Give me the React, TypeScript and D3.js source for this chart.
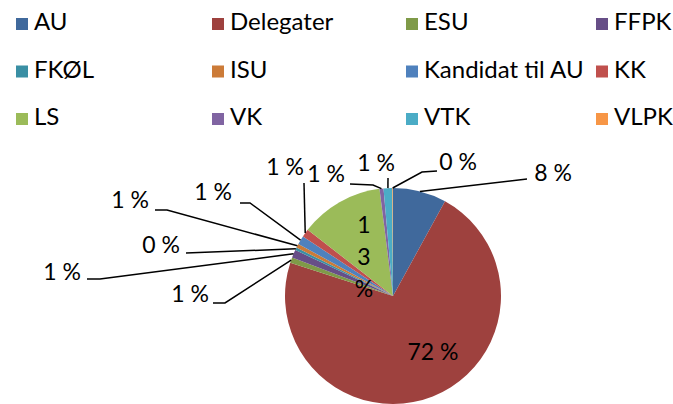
import * as d3 from 'd3';

const categories = ['AU', 'Delegater', 'ESU', 'FFPK', 'FKØL', 'ISU', 'Kandidat til AU', 'KK', 'LS', 'VK', 'VTK', 'VLPK'];
const shares = [8.0, 72.0, 0.8, 1.2, 0.4, 0.6, 1.3, 1.2, 12.5, 0.6, 1.3, 0.1];
const colors = ['#40699c', '#9e413e', '#7f9a48', '#674e87', '#3a8fa4', '#cc7b38', '#4f81bd', '#c0504d', '#9bbb59', '#8064a2', '#4bacc6', '#f79646'];

// where each value label sits (text centre, baseline) and the bend of its leader line
const labelLayout: { at: [number, number]; bend?: [number, number][]; stacked?: boolean }[] = [
  { at: [553, 181], bend: [[527, 179]] },
  { at: [433, 360] },
  { at: [190, 302], bend: [[225, 303], [213, 303]] },
  { at: [62, 280], bend: [[100, 279], [87, 279]] },
  { at: [161, 253], bend: [[186, 253]] },
  { at: [130, 208], bend: [[167, 210], [155, 210]] },
  { at: [213, 200], bend: [[250, 203], [240, 203]] },
  { at: [285, 175], bend: [[304, 183]] },
  { at: [364, 233], stacked: true },
  { at: [326, 182], bend: [[373, 185], [350, 184]] },
  { at: [376, 171], bend: [[388, 178]] },
  { at: [458, 170], bend: [[422, 172], [437, 171]] },
];

const width = 673;
const height = 404;
const cx = 393;
const cy = 296;
const radius = 108;
const font = 'Lato, "Open Sans", sans-serif';
const legendCols = [16, 212, 406, 596];

export default function App() {
  const pie = d3.pie<number>().sort(null).value((d) => d);
  const arcs = pie(shares);
  const arc = d3.arc<d3.PieArcDatum<number>>().innerRadius(0).outerRadius(radius);
  const edge = d3.arc<d3.PieArcDatum<number>>().innerRadius(radius).outerRadius(radius);
  const pct = (v: number) => `${Math.round(v)} %`;

  const colX = (i: number) => legendCols[i % 4];
  const rowY = (i: number) => 30 + Math.floor(i / 4) * 47.5;

  return (
    <svg width={width} height={height} style={{ position: 'absolute', left: 0, top: 0, background: '#fff' }}>
      <g className="legend" fontFamily={font} fontSize={24}>
        {categories.map((c, i) => (
          <g key={c}>
            <rect x={colX(i)} y={rowY(i) - 12} width={12} height={12} fill={colors[i]} />
            <text x={colX(i) + 18} y={rowY(i)} fill="#000">{c}</text>
          </g>
        ))}
      </g>
      <g transform={`translate(${cx},${cy})`}>
        {arcs.map((a, i) => (
          <path key={categories[i]} d={arc(a) ?? ''} fill={colors[i]} />
        ))}
      </g>
      <g className="leaders" fill="none" stroke="#000" strokeWidth={1.5}>
        {arcs.map((a, i) => {
          const lay = labelLayout[i];
          if (!lay.bend) return null;
          const [ex, ey] = edge.centroid(a);
          const pts: [number, number][] = [[cx + ex, cy + ey], ...lay.bend];
          return <path key={categories[i]} d={d3.line()(pts) ?? ''} />;
        })}
      </g>
      <g className="labels" fontFamily={font} fontSize={23} textAnchor="middle" fill="#000">
        {arcs.map((a, i) => {
          const lay = labelLayout[i];
          const txt = pct(a.data);
          if (lay.stacked) {
            const parts = [...txt.replace(' ', '')];
            return parts.map((p, k) => (
              <text key={categories[i] + k} x={lay.at[0]} y={lay.at[1] + k * 32}>{p}</text>
            ));
          }
          return <text key={categories[i]} x={lay.at[0]} y={lay.at[1]}>{txt}</text>;
        })}
      </g>
    </svg>
  );
}
